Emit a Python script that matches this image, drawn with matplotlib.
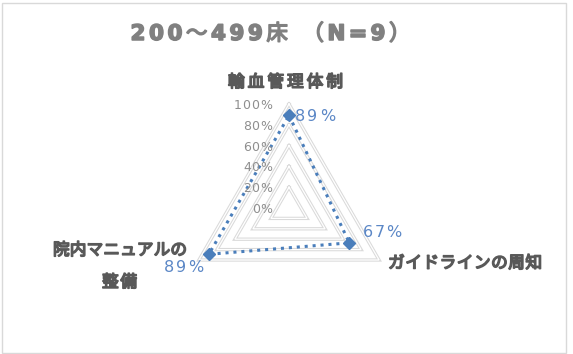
import matplotlib
matplotlib.use("Agg")
import matplotlib.pyplot as plt
import matplotlib.patheffects as pe
from matplotlib.font_manager import FontProperties, findfont, get_font
from matplotlib.patches import Rectangle
from matplotlib.transforms import IdentityTransform
import numpy as np

title = "200～499床 （N=9）"
categories = ["輸血管理体制", "ガイドラインの周知", "院内マニュアルの\n整備"]
values = [0.89, 0.67, 0.89]
levels = [0.0, 0.2, 0.4, 0.6, 0.8, 1.0]
level_labels = ["0%", "20%", "40%", "60%", "80%", "100%"]

W, H, DPI = 573, 354, 100
CJK = "Noto Sans CJK JP"
LATIN = "DejaVu Sans"
BLUE = "#4a7ebb"

fig = plt.figure(figsize=(W / DPI, H / DPI), dpi=DPI)
ax = fig.add_axes([0, 0, 1, 1])
# 1 unit of radius = 104 px, centre at (289, 146) px from bottom-left
R, cx, cy = 104, 289, 146
ax.set_xlim(-cx / R, (W - cx) / R)
ax.set_ylim(-cy / R, (H - cy) / R)
ax.axis("off")

# chart frame
fig.patches.append(Rectangle((2 / W, 1 / H), 564 / W, 350 / H, transform=fig.transFigure,
                             fill=False, edgecolor="#d9d9d9", lw=1))

angles = np.pi / 2 - 2 * np.pi * np.arange(len(categories)) / len(categories)
ca, sa = np.cos(angles), np.sin(angles)


def closed(a):
    return np.append(a, a[0])


# triangular grid
for lv in levels:
    ax.plot(closed(lv * ca), closed(lv * sa), color="#dadada", lw=2.4, zorder=1,
            solid_joinstyle="miter")
    ax.plot(closed(lv * ca), closed(lv * sa), color="white", lw=0.9, zorder=1.5,
            solid_joinstyle="miter")

v = np.array(values)
ax.plot(closed(v * ca), closed(v * sa), color=BLUE, lw=2.2, ls=(0, (1, 1.6)), zorder=3)
ax.plot(v * ca, v * sa, ls="none", marker="D", ms=6.5, color=BLUE, zorder=4)


def to_px(x, y):
    return ax.transData.transform((x, y))


def spaced_text(x, y, s, size, color, width, bold=False, ha="center"):
    """Draw s char by char with its baseline at display y, stretched to width px.
    ASCII goes in DejaVu Sans, the rest in Noto Sans CJK (bold thickened with a stroke)."""
    latin = FontProperties(family=LATIN, size=size, weight="bold" if bold else "normal")
    cjk = FontProperties(family=CJK, size=size)
    fx = [pe.withStroke(linewidth=1.1, foreground=color)] if bold else None
    parts = []
    for ch in s:
        fp = latin if ord(ch) < 128 else cjk
        font = get_font(findfont(fp))
        font.set_size(size, DPI)
        adv = font.load_char(ord(ch)).linearHoriAdvance / 65536
        parts.append((ch, fp, adv))
    track = (width - sum(p[2] for p in parts)) / max(len(s) - 1, 1)
    if ha == "center":
        pen = x - width / 2
    elif ha == "right":
        pen = x - width
    else:
        pen = x
    for ch, fp, adv in parts:
        fig.text(pen + adv / 2, y, ch, transform=IdentityTransform(), ha="center",
                 va="baseline", fontproperties=fp, color=color, path_effects=fx)
        pen += adv + track


# title
spaced_text(270.5, H - 40, title, 15.5, "#808080", 280, bold=True)

# radial level labels along the top spoke
for lv, lab in zip(levels, level_labels):
    px, py = to_px(0, lv)
    spaced_text(272, py - 5, lab, 9, "#8e8e8e", 9.7 * len(lab), ha="right")

# category labels
tx, ty = to_px(ca[0], sa[0])
spaced_text(tx - 3.5, ty + 17, categories[0], 12, "#595959", 115, bold=True)
rx, ry = to_px(ca[1], sa[1])
spaced_text(rx + 9, ry - 8, categories[1], 12, "#595959", 154, bold=True, ha="left")
lx, ly = to_px(ca[2], sa[2])
line1, line2 = categories[2].split("\n")
spaced_text(120, ly + 5, line1, 12, "#595959", 134, bold=True)
spaced_text(119.5, ly - 27, line2, 12, "#595959", 35, bold=True)

# value labels
lab_col = "#5b87c6"
p0 = to_px(v[0] * ca[0], v[0] * sa[0])
spaced_text(p0[0] + 6, p0[1] - 6, f"{values[0]:.0%}", 11.5, lab_col, 40, ha="left")
p1 = to_px(v[1] * ca[1], v[1] * sa[1])
spaced_text(p1[0] + 33, p1[1] + 6, f"{values[1]:.0%}", 11.5, lab_col, 39)
p2 = to_px(v[2] * ca[2], v[2] * sa[2])
spaced_text(p2[0] - 25, p2[1] - 18, f"{values[2]:.0%}", 11.5, lab_col, 39)

fig.savefig("out.png", dpi=DPI)
